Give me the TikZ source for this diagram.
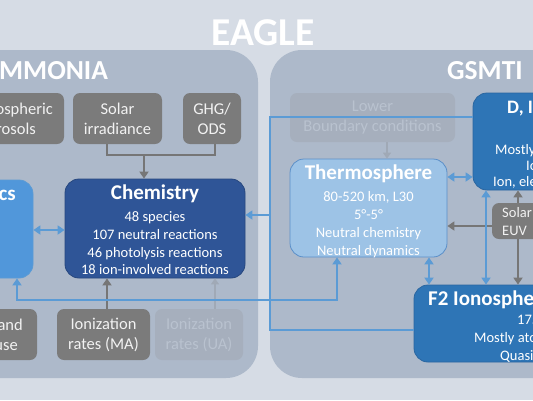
\documentclass[tikz,border=0pt]{standalone}
\usepackage{fontspec}
\setmainfont{Carlito}
\usetikzlibrary{arrows.meta}
\definecolor{bgc}{HTML}{D6DCE5}
\definecolor{panelc}{HTML}{ADB9CA}
\definecolor{grayc}{HTML}{7B7B7B}
\definecolor{gtext}{HTML}{F2F2F2}
\definecolor{fadec}{HTML}{A6AFBD}
\definecolor{ftext}{HTML}{B9C2CF}
\definecolor{chemc}{HTML}{2F5597}
\definecolor{chemb}{HTML}{27477E}
\definecolor{dync}{HTML}{5197DA}
\definecolor{thermc}{HTML}{9DC3E6}
\definecolor{thermb}{HTML}{5B8FC8}
\definecolor{ionoc}{HTML}{2E75B6}
\definecolor{ionob}{HTML}{2A66A0}
\definecolor{bluel}{HTML}{5B9BD5}
\definecolor{grayl}{HTML}{767676}
\definecolor{fadel}{HTML}{A0A9B6}
\newcommand{\titlef}{\fontsize{21}{24}\bfseries\selectfont}
\newcommand{\bodyf}{\fontsize{14.5}{17.7}\selectfont}
\begin{document}
\begin{tikzpicture}[x=1pt,y=-1pt,
  panel/.style={fill=panelc, rounded corners=32pt},
  gbox/.style={fill=grayc, rounded corners=7pt, text=gtext, align=center, font=\fontsize{16.5}{20}\selectfont, inner sep=0pt},
  fbox/.style={fill=fadec, rounded corners=7pt, text=ftext, align=center, font=\fontsize{16.5}{20}\selectfont, inner sep=0pt},
  chembox/.style={fill=chemc, draw=chemb, line width=0.8pt, rounded corners=14pt, inner sep=0pt},
  dynbox/.style={fill=dync, draw=bluel, line width=0.8pt, rounded corners=14pt, inner sep=0pt},
  thermbox/.style={fill=thermc, draw=thermb, line width=0.8pt, rounded corners=14pt, inner sep=0pt},
  ionobox/.style={fill=ionoc, draw=ionob, line width=0.8pt, rounded corners=14pt, inner sep=0pt},
  boxtext/.style={text=white, align=center, inner sep=0pt},
  frag/.style={text=white, inner sep=0pt},
  gfrag/.style={text=gtext, inner sep=0pt, font=\fontsize{16.5}{20}\selectfont},
  bline/.style={draw=bluel, line width=2.4pt},
  barr/.style={draw=bluel, line width=2.4pt, -{Triangle[length=7pt,width=9pt]}},
  bdbl/.style={draw=bluel, line width=2.4pt, {Triangle[length=7pt,width=9pt]}-{Triangle[length=7pt,width=9pt]}},
  gline/.style={draw=grayl, line width=2.6pt},
  garr/.style={draw=grayl, line width=2.6pt, -{Triangle[length=7pt,width=9pt]}},
  farr/.style={draw=fadel, line width=2pt, -{Triangle[length=6pt,width=8pt]}}
]
\useasboundingbox (0,0) rectangle (533,400);
\fill[bgc] (0,0) rectangle (533,400);
% panels
\node[panel, minimum width=300pt, minimum height=328pt, inner sep=0pt] (hamm) at (108,214) {};
\node[panel, minimum width=330pt, minimum height=328pt, inner sep=0pt] (gsm) at (435,214) {};
% titles
\node[frag, anchor=base, font=\fontsize{39.5}{42}\bfseries\selectfont] (eagle) at (263,45) {EAGLE};
\node[frag, anchor=base west, font=\fontsize{27.5}{30}\bfseries\selectfont] (hamt) at (-1,79.5) {MMONIA};
\node[frag, anchor=base west, font=\fontsize{27.5}{30}\bfseries\selectfont] (gsmt) at (447,79.5) {GSMTI};
% top gray boxes
\node[gbox, minimum width=104pt, minimum height=51pt] (aer) at (12,118.5) {};
\node[gfrag, anchor=base east] (aer1) at (53,114) {ospheric};
\node[gfrag, anchor=base east] (aer2) at (36,134) {rosols};
\node[gbox, minimum width=89pt, minimum height=51pt] (sol) at (117.5,118.5) {Solar\\irradiance};
\node[gbox, minimum width=58pt, minimum height=51pt] (ghg) at (212,118.5) {GHG/\\ODS};
% dynamics and chemistry
\node[dynbox, minimum width=93pt, minimum height=98pt] (dyn) at (-13.5,229) {};
\node[frag, anchor=base east, font=\titlef] (dynt) at (16,200) {cs};
\node[chembox, minimum width=180pt, minimum height=99pt] (chem) at (155,228.5) {};
\node[boxtext, font=\bodyf] (chemtx) at (155,230)
  {{\titlef Chemistry}\\[4pt] 48 species\\ 107 neutral reactions\\ 46 photolysis reactions\\ 18 ion-involved reactions};
% bottom gray boxes
\node[gbox, minimum width=77pt, minimum height=51pt] (land) at (-1.5,334.5) {};
\node[gfrag, anchor=base east] (land1) at (23,330) {and};
\node[gfrag, anchor=base east] (land2) at (18,350) {use};
\node[gbox, minimum width=93pt, minimum height=51pt] (ionma) at (103.5,334.5) {Ionization\\rates (MA)};
\node[fbox, minimum width=88pt, minimum height=51pt] (ionua) at (199,334.5) {Ionization\\rates (UA)};
% GSMTIP side
\node[fbox, minimum width=165pt, minimum height=49pt] (lbc) at (372.5,117.5) {Lower\\Boundary conditions};
\node[thermbox, minimum width=157pt, minimum height=98pt] (thermo) at (368.5,208) {};
\node[boxtext, font=\fontsize{14.5}{18}\selectfont] (thermtx) at (368.5,211.5)
  {{\titlef Thermosphere}\\[4.5pt] 80-520 km, L30\\ 5°-5°\\ Neutral chemistry\\ Neutral dynamics};
\node[ionobox, minimum width=167pt, minimum height=97pt] (dei) at (556.5,141.5) {};
\node[frag, anchor=base west, font=\fontsize{19}{22}\bfseries\selectfont] (deit) at (507,113) {D, I};
\node[frag, anchor=base west, font=\bodyf] (dei1) at (495,154) {Mostly};
\node[frag, anchor=base west, font=\bodyf] (dei2) at (526,170) {Io};
\node[frag, anchor=base west, font=\bodyf] (dei3) at (493,186) {Ion, ele};
\node[gbox, minimum width=108pt, minimum height=36pt] (euv) at (546,221) {};
\node[gfrag, anchor=base west, font=\bodyf] (euv1) at (502,217.5) {Solar};
\node[gfrag, anchor=base west, font=\bodyf] (euv2) at (502,235.5) {EUV};
\node[ionobox, minimum width=226pt, minimum height=77pt] (f2) at (527,323.5) {};
\node[frag, anchor=base west, font=\titlef] (f2t) at (428,305) {F2 Ionosphe};
\node[frag, anchor=base west, font=\bodyf] (f21) at (517,324.5) {175};
\node[frag, anchor=base west, font=\bodyf] (f22) at (474,342) {Mostly ato};
\node[frag, anchor=base west, font=\bodyf] (f23) at (500,360) {Quasi};
% helper coordinates
\coordinate (j1) at (144,155);
\coordinate (h117) at (0,117);
\coordinate (h177) at (0,177);
\coordinate (h215) at (0,215);
\coordinate (h226) at (0,226);
\coordinate (h230) at (0,230);
\coordinate (h300) at (0,300);
\coordinate (h330) at (0,330);
\coordinate (v17) at (17,0);
\coordinate (v270) at (270,0);
\coordinate (v337) at (337,0);
\coordinate (v429) at (429,0);
\coordinate (v486) at (486,0);
\coordinate (v518) at (518,0);
% gray connectors
\draw[gline] ([xshift=-10.5pt]sol.south) |- (j1) -| ([xshift=3pt]ghg.south);
\draw[garr] (j1) -- (j1 |- chem.north);
\draw[garr] ([xshift=3.5pt]ionma.north) -- ([xshift=3.5pt]ionma.north |- chem.south);
\draw[farr] ([xshift=16pt]ionua.north) -- ([xshift=16pt]ionua.north |- chem.south);
\draw[farr] ([xshift=14.5pt]lbc.south) -- ([xshift=14.5pt]lbc.south |- thermo.north);
\draw[garr] (euv.west |- h226) -- (thermo.east |- h226);
\draw[garr] (v518 |- euv.north) -- (v518 |- dei.south);
\draw[garr] (v518 |- euv.south) -- (v518 |- f2.north);
% blue connectors
\draw[bdbl] (dyn.east |- h230) -- (chem.west |- h230);
\draw[bdbl] (thermo.east |- h177) -- (dei.west |- h177);
\draw[bdbl] (v486 |- dei.south) -- (v486 |- f2.north);
\draw[bdbl] (v429 |- thermo.south) -- (v429 |- f2.north);
\draw[bdbl] (v337 |- thermo.south) |- (v17 |- h300) -- (v17 |- dyn.south);
\draw[bline] (dei.west |- h117) -| (v270 |- h330) -- (f2.west |- h330);
\draw[barr] (v270 |- h215) -- (chem.east |- h215);
\end{tikzpicture}
\end{document}
